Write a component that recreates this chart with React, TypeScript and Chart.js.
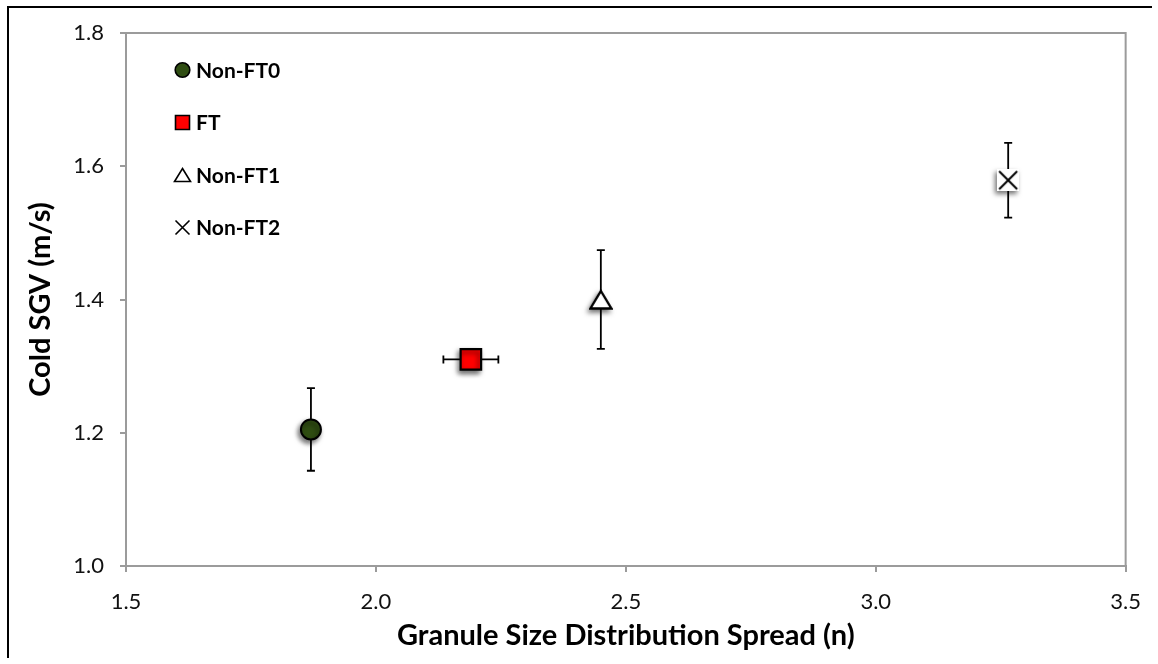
import React, { useEffect, useRef } from 'react';
import { Chart, registerables } from 'chart.js';

Chart.register(...registerables);

// Series (one point each) with error ranges
const seriesNames = ['Non-FT0', 'FT', 'Non-FT1', 'Non-FT2'];
const spreadN = [1.87, 2.19, 2.45, 3.265];
const coldSGV = [1.205, 1.31, 1.4, 1.579];
const spreadErr = [0, 0.055, 0, 0];
const sgvErr = [0.062, 0, 0.074, 0.056];

// Axis ticks
const xTicks = [1.5, 2.0, 2.5, 3.0, 3.5];
const yTicks = [1.0, 1.2, 1.4, 1.6, 1.8];

const FONT = 'Lato, "Open Sans", sans-serif';
const AXIS_GRAY = '#9b9b9b';
const GREEN = '#2f4d12';
const RED = '#ff0000';

// White box with a black X, used as the Non-FT2 marker
function makeCrossBox(size: number): HTMLCanvasElement {
  const c = document.createElement('canvas');
  c.width = size;
  c.height = size;
  const g = c.getContext('2d')!;
  g.fillStyle = '#ffffff';
  g.fillRect(0, 0, size, size);
  g.strokeStyle = '#000000';
  g.lineWidth = 2;
  g.beginPath();
  g.moveTo(2, 2);
  g.lineTo(size - 2, size - 2);
  g.moveTo(size - 2, 2);
  g.lineTo(2, size - 2);
  g.stroke();
  return c;
}

// Open triangle centred on its bounding box, used as the Non-FT1 marker
function makeTriangle(w: number, h: number): HTMLCanvasElement {
  const c = document.createElement('canvas');
  c.width = w;
  c.height = h;
  const g = c.getContext('2d')!;
  g.fillStyle = '#ffffff';
  g.strokeStyle = '#000000';
  g.lineWidth = 2.4;
  g.lineJoin = 'miter';
  g.beginPath();
  g.moveTo(w / 2, 2);
  g.lineTo(w - 1.5, h - 1.5);
  g.lineTo(1.5, h - 1.5);
  g.closePath();
  g.fill();
  g.stroke();
  return c;
}

// Plot frame (top/right), error bars and marker drop-shadow
const plotDecor = {
  id: 'plotDecor',
  beforeDatasetsDraw(chart: any) {
    const { ctx, chartArea, scales } = chart;
    const x = scales.x;
    const y = scales.y;

    ctx.save();
    ctx.strokeStyle = AXIS_GRAY;
    ctx.lineWidth = 2;
    ctx.beginPath();
    ctx.moveTo(chartArea.left, chartArea.top);
    ctx.lineTo(chartArea.right, chartArea.top);
    ctx.lineTo(chartArea.right, chartArea.bottom);
    ctx.stroke();
    ctx.restore();

    ctx.save();
    ctx.strokeStyle = '#000000';
    ctx.lineWidth = 1.8;
    const cap = 4;
    spreadN.forEach((xv, i) => {
      const yv = coldSGV[i];
      const px = x.getPixelForValue(xv);
      const py = y.getPixelForValue(yv);
      ctx.beginPath();
      if (sgvErr[i] > 0) {
        const t = y.getPixelForValue(yv + sgvErr[i]);
        const b = y.getPixelForValue(yv - sgvErr[i]);
        ctx.moveTo(px, t);
        ctx.lineTo(px, b);
        ctx.moveTo(px - cap, t);
        ctx.lineTo(px + cap, t);
        ctx.moveTo(px - cap, b);
        ctx.lineTo(px + cap, b);
      }
      if (spreadErr[i] > 0) {
        const l = x.getPixelForValue(xv - spreadErr[i]);
        const r = x.getPixelForValue(xv + spreadErr[i]);
        ctx.moveTo(l, py);
        ctx.lineTo(r, py);
        ctx.moveTo(l, py - cap);
        ctx.lineTo(l, py + cap);
        ctx.moveTo(r, py - cap);
        ctx.lineTo(r, py + cap);
      }
      ctx.stroke();
    });
    ctx.restore();

    ctx.save();
    ctx.shadowColor = 'rgba(0,0,0,0.55)';
    ctx.shadowBlur = 5;
    ctx.shadowOffsetX = -2;
    ctx.shadowOffsetY = 3;
  },
  afterDatasetsDraw(chart: any) {
    chart.ctx.restore();
  },
};

// Legend placed inside the plot, top-left
const insideLegend = {
  id: 'insideLegend',
  afterDraw(chart: any) {
    const { ctx } = chart;
    const mx = 182.5;
    const tx = 196;
    const rows = [70, 122.5, 175.5, 227.5];
    ctx.save();
    ctx.lineWidth = 1.6;
    ctx.strokeStyle = '#000000';

    // circle
    ctx.beginPath();
    ctx.arc(mx, rows[0], 7.3, 0, Math.PI * 2);
    ctx.fillStyle = GREEN;
    ctx.fill();
    ctx.stroke();

    // square
    ctx.beginPath();
    ctx.rect(mx - 7, rows[1] - 7, 14, 14);
    ctx.fillStyle = RED;
    ctx.fill();
    ctx.stroke();

    // triangle
    ctx.beginPath();
    ctx.moveTo(mx, rows[2] - 7);
    ctx.lineTo(mx + 8, rows[2] + 6);
    ctx.lineTo(mx - 8, rows[2] + 6);
    ctx.closePath();
    ctx.fillStyle = '#ffffff';
    ctx.fill();
    ctx.stroke();

    // cross
    ctx.beginPath();
    ctx.moveTo(mx - 7, rows[3] - 7);
    ctx.lineTo(mx + 7, rows[3] + 7);
    ctx.moveTo(mx + 7, rows[3] - 7);
    ctx.lineTo(mx - 7, rows[3] + 7);
    ctx.stroke();

    ctx.fillStyle = '#000000';
    ctx.font = `bold 21px ${FONT}`;
    ctx.textBaseline = 'middle';
    ctx.textAlign = 'left';
    seriesNames.forEach((name, i) => ctx.fillText(name, tx, rows[i] + 1));

    // outer frame (top and left edges)
    ctx.fillStyle = '#000000';
    ctx.fillRect(7, 6, 1145, 2);
    ctx.fillRect(7, 6, 2, 652);
    ctx.restore();
  },
};

export default function App() {
  const canvasRef = useRef<HTMLCanvasElement | null>(null);

  useEffect(() => {
    const canvas = canvasRef.current;
    if (!canvas) return;

    const styles = [
      { pointStyle: 'circle', radius: 10, bg: GREEN, border: '#000000', bw: 2 },
      { pointStyle: 'rect', radius: 14.5, bg: RED, border: '#000000', bw: 2.2 },
      { pointStyle: makeTriangle(24, 21), radius: 12, bg: '#ffffff', border: '#000000', bw: 0 },
      { pointStyle: makeCrossBox(22), radius: 11, bg: '#ffffff', border: '#000000', bw: 0 },
    ];

    const datasets = seriesNames.map((name, i) => ({
      label: name,
      data: [{ x: spreadN[i], y: coldSGV[i] }],
      pointStyle: styles[i].pointStyle as any,
      pointRadius: styles[i].radius,
      pointBackgroundColor: styles[i].bg,
      pointBorderColor: styles[i].border,
      pointBorderWidth: styles[i].bw,
      showLine: false,
    }));

    const tickFont = { family: FONT, size: 22 };
    const titleFont = { family: FONT, size: 29, weight: 'bold' as const };

    const chart = new Chart(canvas, {
      type: 'scatter',
      data: { datasets },
      options: {
        responsive: false,
        animation: false,
        layout: { padding: { left: 0, top: 33, right: 28, bottom: 0 } },
        plugins: {
          legend: { display: false },
          tooltip: { enabled: false },
        },
        scales: {
          x: {
            type: 'linear',
            min: 1.5,
            max: 3.5,
            afterBuildTicks: (s: any) => {
              s.ticks = xTicks.map((v) => ({ value: v }));
            },
            afterFit: (s: any) => {
              s.height = 98;
            },
            ticks: {
              autoSkip: false,
              maxRotation: 0,
              padding: 17,
              color: '#111111',
              font: tickFont,
              callback: (v: any) => Number(v).toFixed(1),
            },
            grid: {
              drawOnChartArea: false,
              drawTicks: true,
              tickLength: 6,
              color: AXIS_GRAY,
              lineWidth: 2,
            },
            border: { color: AXIS_GRAY, width: 2 },
            title: {
              display: true,
              text: 'Granule Size Distribution Spread (n)',
              color: '#000000',
              font: titleFont,
              padding: { top: 0, bottom: 11 },
            },
          },
          y: {
            type: 'linear',
            min: 1.0,
            max: 1.8,
            afterBuildTicks: (s: any) => {
              s.ticks = yTicks.map((v) => ({ value: v }));
            },
            afterFit: (s: any) => {
              s.width = 126;
            },
            ticks: {
              autoSkip: false,
              padding: 16,
              color: '#111111',
              font: tickFont,
              callback: (v: any) => Number(v).toFixed(1),
            },
            grid: {
              drawOnChartArea: false,
              drawTicks: true,
              tickLength: 6,
              color: AXIS_GRAY,
              lineWidth: 2,
            },
            border: { color: AXIS_GRAY, width: 2 },
            title: {
              display: true,
              text: 'Cold SGV (m/s)',
              color: '#000000',
              font: titleFont,
              padding: { top: 23, bottom: 0 },
            },
          },
        },
      },
      plugins: [plotDecor, insideLegend],
    });

    return () => chart.destroy();
  }, []);

  return (
    <div style={{ position: 'fixed', left: 0, top: 0, width: 1158, height: 664, background: '#ffffff' }}>
      <canvas ref={canvasRef} width={1158} height={664} style={{ display: 'block' }} />
    </div>
  );
}
